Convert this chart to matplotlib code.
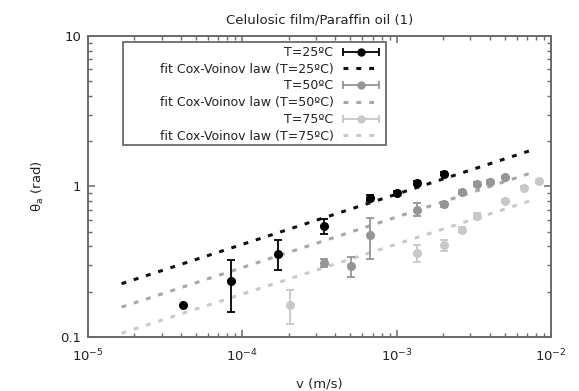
import numpy as np
import matplotlib
matplotlib.use("Agg")
import matplotlib.pyplot as plt
from matplotlib.patches import Rectangle
from matplotlib.container import ErrorbarContainer
from matplotlib.legend_handler import HandlerErrorbar
from matplotlib.ticker import LogLocator, FixedLocator, FixedFormatter, NullFormatter

nan = np.nan

# --- data ---
v25 = [4.15e-5, 8.45e-5, 1.69e-4, 3.4e-4, 6.7e-4, 1.01e-3, 1.35e-3, 2.03e-3]
t25 = [0.162, 0.237, 0.355, 0.55, 0.84, 0.912, 1.06, 1.22]
lo25 = [nan, 0.091, 0.075, 0.065, 0.04, 0.02, 0.03, 0.03]
hi25 = [nan, 0.090, 0.088, 0.060, 0.04, 0.02, 0.03, 0.03]

v50 = [3.4e-4, 5.06e-4, 6.7e-4, 1.35e-3, 2.03e-3, 2.67e-3, 3.3e-3, 4.03e-3, 5.05e-3]
t50 = [0.31, 0.297, 0.475, 0.70, 0.76, 0.916, 1.04, 1.07, 1.15]
lo50 = [0.02, 0.045, 0.143, 0.065, 0.03, 0.03, 0.03, 0.03, 0.03]
hi50 = [0.02, 0.042, 0.144, 0.080, 0.03, 0.03, 0.03, 0.03, 0.03]

v75 = [2.05e-4, 1.35e-3, 2.03e-3, 2.67e-3, 3.3e-3, 5.05e-3, 6.7e-3, 8.4e-3]
t75 = [0.164, 0.36, 0.41, 0.515, 0.638, 0.807, 0.98, 1.08]
lo75 = [0.042, 0.043, 0.035, 0.02, 0.03, 0.02, 0.02, 0.02]
hi75 = [0.040, 0.046, 0.033, 0.02, 0.03, 0.02, 0.02, 0.02]

# Cox-Voinov fit lines (endpoints, straight on log-log)
fit_v = [1.65e-5, 7.7e-3]
fit25 = [0.226, 1.76]
fit50 = [0.158, 1.245]
fit75 = [0.106, 0.816]

labels = ["T=25ºC", "fit Cox-Voinov law (T=25ºC)",
          "T=50ºC", "fit Cox-Voinov law (T=50ºC)",
          "T=75ºC", "fit Cox-Voinov law (T=75ºC)"]
title = "Celulosic film/Paraffin oil (1)"
xlabel = "v (m/s)"
ylabel = "θ$_{\\mathrm{a}}$ (rad)"

c25, c50, c75 = "#000000", "#959595", "#c8c8c8"
f25, f50, f75 = "#111111", "#a8a8a8", "#cacaca"
axc = "#6a6a6a"

plt.rcParams["font.family"] = ["DejaVu Sans"]
fig = plt.figure(figsize=(5.79, 3.91), dpi=100)
ax = fig.add_axes([88/579, 1-337/391, (551-88)/579, (337-36)/391])

dash = (0, (1.6, 2.6))
ax.plot(fit_v, fit25, color=f25, lw=2.2, ls=dash, zorder=2)
ax.plot(fit_v, fit50, color=f50, lw=2.2, ls=dash, zorder=2)
ax.plot(fit_v, fit75, color=f75, lw=2.2, ls=dash, zorder=2)

def eb(v, t, lo, hi, c):
    ax.errorbar(v, t, yerr=[lo, hi], fmt="o", color=c, ms=5.5, mec=c,
                ecolor=c, elinewidth=1.3, capsize=2.6, capthick=1.3, zorder=3)

eb(v75, t75, lo75, hi75, c75)
eb(v50, t50, lo50, hi50, c50)
eb(v25, t25, lo25, hi25, c25)

ax.set_xscale("log")
ax.set_yscale("log")
ax.set_xlim(1e-5, 1e-2)
ax.set_ylim(0.1, 10)

ax.xaxis.set_major_locator(FixedLocator([1e-5, 1e-4, 1e-3, 1e-2]))
ax.xaxis.set_major_formatter(FixedFormatter(["$10^{-5}$", "$10^{-4}$", "$10^{-3}$", "$10^{-2}$"]))
ax.yaxis.set_major_locator(FixedLocator([0.1, 1, 10]))
ax.yaxis.set_major_formatter(FixedFormatter(["0.1", "1", "10"]))
ax.xaxis.set_minor_locator(LogLocator(base=10, subs=np.arange(2, 10), numticks=20))
ax.yaxis.set_minor_locator(LogLocator(base=10, subs=np.arange(2, 10), numticks=20))
ax.xaxis.set_minor_formatter(NullFormatter())
ax.yaxis.set_minor_formatter(NullFormatter())

ax.tick_params(which="both", direction="in", top=True, right=True, colors=axc,
               labelcolor="#222222", labelsize=9.5)
ax.tick_params(which="major", length=5, width=1.1, pad=5)
ax.tick_params(axis="x", which="major", pad=8)
ax.tick_params(which="minor", length=3, width=1.0)
for s in ax.spines.values():
    s.set_color(axc)
    s.set_linewidth(1.4)

ax.set_title(title, fontsize=9.5, color="#222222", pad=9)
ax.set_xlabel(xlabel, fontsize=9.5, color="#222222", labelpad=9)
ax.set_ylabel(ylabel, fontsize=9.5, color="#222222", labelpad=10)

# legend frame (gnuplot-style key)
X = lambda px: (px - 88) / 463
Y = lambda py: (337 - py) / 301
ax.add_patch(Rectangle((X(123), Y(145)), X(386) - X(123), Y(42) - Y(145),
                       transform=ax.transAxes, fill=True, facecolor="white",
                       edgecolor=axc, lw=1.3, zorder=4))

def proxy(c):
    h = ax.errorbar([nan], [nan], xerr=[nan], fmt="o", color=c, ms=5, mec=c,
                    ecolor=c, elinewidth=1.3, capsize=2.6, capthick=1.3)
    return h

p25, p50, p75 = proxy(c25), proxy(c50), proxy(c75)
l25, = ax.plot([], [], color=f25, lw=2.2, ls=dash)
l50, = ax.plot([], [], color=f50, lw=2.2, ls=dash)
l75, = ax.plot([], [], color=f75, lw=2.2, ls=dash)

leg = ax.legend([p25, l25, p50, l50, p75, l75], labels,
                loc="upper right", bbox_to_anchor=(X(379), Y(46)),
                frameon=False, borderpad=0, borderaxespad=0,
                markerfirst=False, handlelength=2.9, handletextpad=0.75,
                labelspacing=0.30, fontsize=9, numpoints=1,
                handler_map={ErrorbarContainer: HandlerErrorbar(xerr_size=1.45)})
leg.set_zorder(5)
for t in leg.get_texts():
    t.set_color("#222222")

fig.savefig("out.png", dpi=100)
